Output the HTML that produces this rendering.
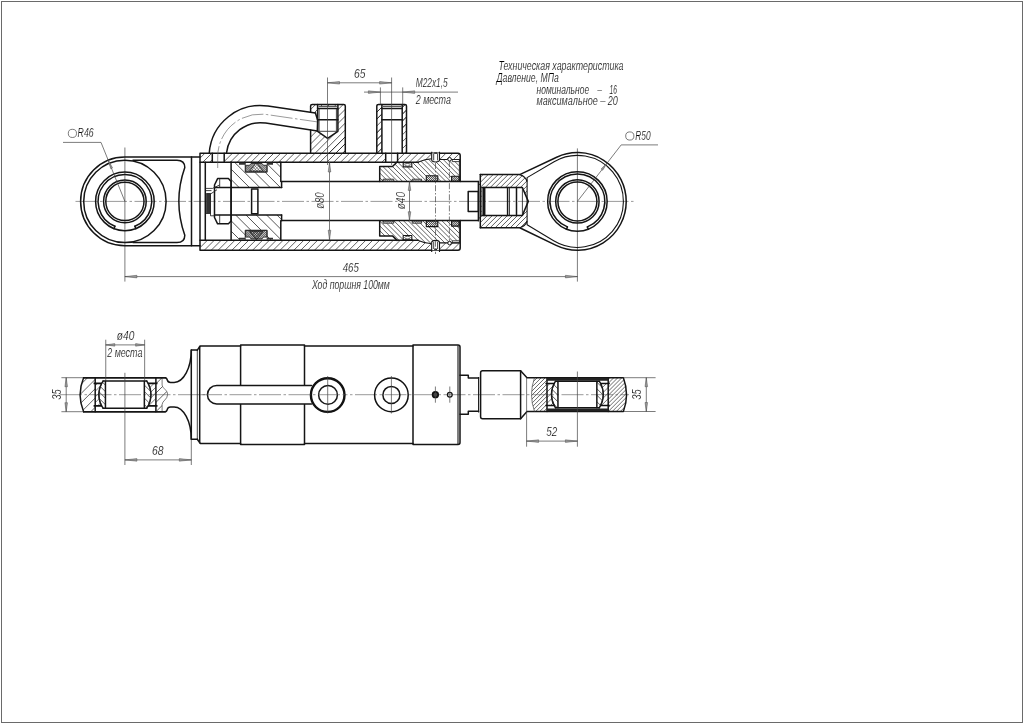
<!DOCTYPE html>
<html lang="ru">
<head>
<meta charset="utf-8">
<title>Гидроцилиндр</title>
<style>
html,body{margin:0;padding:0;background:#fff;}
body{width:1024px;height:724px;overflow:hidden;}
svg{display:block;will-change:transform;}
.k{fill:none;stroke:#151515;stroke-width:1.5;stroke-linejoin:round;stroke-linecap:round;}
.m{fill:none;stroke:#222;stroke-width:0.85;stroke-linejoin:round;}
.k2{fill:none;stroke:#151515;stroke-width:1.1;stroke-linejoin:round;}
.n{fill:none;stroke:#444;stroke-width:0.7;}
.c{fill:none;stroke:#555;stroke-width:0.6;stroke-dasharray:22 2.5 2.5 2.5;}
.c2{fill:none;stroke:#444;stroke-width:0.7;stroke-dasharray:6 1.8 1.5 1.8;}
.a{fill:#999;stroke:#444;stroke-width:0.45;}
text{font-family:"Liberation Sans",sans-serif;font-style:italic;fill:#000;stroke:#fff;stroke-width:0.2;}
</style>
</head>
<body>
<svg width="1024" height="724" viewBox="0 0 1024 724">
<rect x="0" y="0" width="1024" height="724" fill="#fff"/>
<rect x="1.5" y="1.5" width="1021" height="721" fill="none" stroke="#6a6a6a" stroke-width="1"/>
<clipPath id="cp_h1"><path clip-rule="evenodd" d="M200.5,153.3H212V162.3H200.5Z"/><path clip-rule="evenodd" d="M224.3,153.3H385.7V162.3H224.3Z"/><path clip-rule="evenodd" d="M397.6,153.3H431.7V158.7Q425,159 418.4,162.3H397.6Z"/><path clip-rule="evenodd" d="M200.5,240.2H418.4Q425,243.4 431.7,243.7V250.3H200.5Z"/><path clip-rule="evenodd" d="M439.5,153.3H458L460.2,155.5V159.5H439.5Z"/><path clip-rule="evenodd" d="M439.5,250.3H458L460.2,248.10000000000002V242.9H439.5Z"/></clipPath>
<path clip-path="url(#cp_h1)" d="M195.34,162.80L205.34,152.80M202.22,162.80L212.22,152.80M209.11,162.80L219.11,152.80M216.00,162.80L226.00,152.80M222.88,162.80L232.88,152.80M229.77,162.80L239.77,152.80M236.66,162.80L246.66,152.80M243.55,162.80L253.55,152.80M250.43,162.80L260.43,152.80M257.32,162.80L267.32,152.80M264.21,162.80L274.21,152.80M271.09,162.80L281.09,152.80M277.98,162.80L287.98,152.80M284.87,162.80L294.87,152.80M291.76,162.80L301.76,152.80M298.64,162.80L308.64,152.80M305.53,162.80L315.53,152.80M312.42,162.80L322.42,152.80M319.31,162.80L329.31,152.80M326.19,162.80L336.19,152.80M333.08,162.80L343.08,152.80M339.97,162.80L349.97,152.80M346.85,162.80L356.85,152.80M353.74,162.80L363.74,152.80M360.63,162.80L370.63,152.80M367.52,162.80L377.52,152.80M374.40,162.80L384.40,152.80M381.29,162.80L391.29,152.80M388.18,162.80L398.18,152.80M395.06,162.80L405.06,152.80M401.95,162.80L411.95,152.80M408.84,162.80L418.84,152.80M415.73,162.80L425.73,152.80M422.61,162.80L432.61,152.80M429.50,162.80L439.50,152.80M189.98,250.80L201.08,239.70M196.87,250.80L207.97,239.70M203.76,250.80L214.86,239.70M210.64,250.80L221.74,239.70M217.53,250.80L228.63,239.70M224.42,250.80L235.52,239.70M231.31,250.80L242.41,239.70M238.19,250.80L249.29,239.70M245.08,250.80L256.18,239.70M251.97,250.80L263.07,239.70M258.85,250.80L269.95,239.70M265.74,250.80L276.84,239.70M272.63,250.80L283.73,239.70M279.52,250.80L290.62,239.70M286.40,250.80L297.50,239.70M293.29,250.80L304.39,239.70M300.18,250.80L311.28,239.70M307.06,250.80L318.16,239.70M313.95,250.80L325.05,239.70M320.84,250.80L331.94,239.70M327.73,250.80L338.83,239.70M334.61,250.80L345.71,239.70M341.50,250.80L352.60,239.70M348.39,250.80L359.49,239.70M355.28,250.80L366.38,239.70M362.16,250.80L373.26,239.70M369.05,250.80L380.15,239.70M375.94,250.80L387.04,239.70M382.82,250.80L393.92,239.70M389.71,250.80L400.81,239.70M396.60,250.80L407.70,239.70M403.49,250.80L414.59,239.70M410.37,250.80L421.47,239.70M417.26,250.80L428.36,239.70M424.15,250.80L435.25,239.70M431.03,250.80L442.13,239.70M432.30,160.00L439.50,152.80M439.19,160.00L446.39,152.80M446.08,160.00L453.28,152.80M452.96,160.00L460.16,152.80M459.85,160.00L467.05,152.80M431.03,250.80L439.43,242.40M437.92,250.80L446.32,242.40M444.81,250.80L453.21,242.40M451.70,250.80L460.10,242.40M458.58,250.80L466.98,242.40" fill="none" stroke="#1c1c1c" stroke-width="0.7"/>
<clipPath id="cp_h5"><path clip-rule="evenodd" d="M310.6,104.4H345.3V153.3H310.6ZM317.6,106H337.9V131.3L327.6,138.3L317.6,131.3ZM310.6,111.7L315.3,112.4L317.6,118V130.9L310.6,130Z"/><path clip-rule="evenodd" d="M376.8,104.5H381.9V153.3H376.8Z"/><path clip-rule="evenodd" d="M402.2,104.5H406.5V153.3H402.2Z"/></clipPath>
<path clip-path="url(#cp_h5)" d="M266.32,153.80L316.22,103.90M273.21,153.80L323.11,103.90M280.09,153.80L329.99,103.90M286.98,153.80L336.88,103.90M293.87,153.80L343.77,103.90M300.76,153.80L350.66,103.90M307.64,153.80L357.54,103.90M314.53,153.80L364.43,103.90M321.42,153.80L371.32,103.90M328.31,153.80L378.21,103.90M335.19,153.80L385.09,103.90M342.08,153.80L391.98,103.90M328.31,153.80L378.11,104.00M335.19,153.80L384.99,104.00M342.08,153.80L391.88,104.00M348.97,153.80L398.77,104.00M355.85,153.80L405.65,104.00M362.74,153.80L412.54,104.00M369.63,153.80L419.43,104.00M376.52,153.80L426.32,104.00M355.85,153.80L405.65,104.00M362.74,153.80L412.54,104.00M369.63,153.80L419.43,104.00M376.52,153.80L426.32,104.00M383.40,153.80L433.20,104.00M390.29,153.80L440.09,104.00M397.18,153.80L446.98,104.00M404.06,153.80L453.86,104.00" fill="none" stroke="#1c1c1c" stroke-width="0.7"/>
<clipPath id="cp_h2"><path clip-rule="evenodd" d="M231.1,162H280.8V187.5H231.1ZM245.5,162H267V172.3H245.5Z"/><path clip-rule="evenodd" d="M231.1,215H280.8V240.2H231.1ZM245.5,229.9H267V240.2H245.5Z"/></clipPath>
<path clip-path="url(#cp_h2)" d="M213.12,161.50L239.62,188.00M223.44,161.50L249.94,188.00M233.77,161.50L260.27,188.00M244.09,161.50L270.59,188.00M254.41,161.50L280.91,188.00M264.74,161.50L291.24,188.00M275.06,161.50L301.56,188.00M214.50,214.50L240.70,240.70M224.82,214.50L251.02,240.70M235.15,214.50L261.35,240.70M245.47,214.50L271.67,240.70M255.80,214.50L282.00,240.70M266.12,214.50L292.32,240.70M276.44,214.50L302.64,240.70" fill="none" stroke="#1c1c1c" stroke-width="0.75"/>
<clipPath id="cp_x1"><path clip-rule="evenodd" d="M245.6,171.90H266.8V165.30H263.5L262,163.50H251L249.5,165.30H245.6ZM249.6,171.00L256.4,162.60L263.2,171.00Z"/><path clip-rule="evenodd" d="M245.6,230.50H266.8V237.10H263.5L262,238.90H251L249.5,237.10H245.6ZM249.6,231.40L256.4,239.80L263.2,231.40Z"/><path clip-rule="evenodd" d="M426.3,175.80H437.8V181.40H426.3Z"/><path clip-rule="evenodd" d="M451.6,176.30H459.1V181.40H451.6Z"/><path clip-rule="evenodd" d="M426.3,221.00H437.8V226.60H426.3Z"/><path clip-rule="evenodd" d="M451.6,221.00H459.1V226.10H451.6Z"/></clipPath>
<path clip-path="url(#cp_x1)" d="M235.67,172.40L245.97,162.10M237.72,172.40L248.02,162.10M239.77,172.40L250.07,162.10M241.82,172.40L252.12,162.10M243.87,172.40L254.17,162.10M245.92,172.40L256.22,162.10M247.97,172.40L258.27,162.10M250.03,172.40L260.33,162.10M252.08,172.40L262.38,162.10M254.13,172.40L264.43,162.10M256.18,172.40L266.48,162.10M258.23,172.40L268.53,162.10M260.28,172.40L270.58,162.10M262.33,172.40L272.63,162.10M264.38,172.40L274.68,162.10M266.43,172.40L276.73,162.10M235.92,162.10L246.22,172.40M237.97,162.10L248.27,172.40M240.02,162.10L250.32,172.40M242.07,162.10L252.37,172.40M244.12,162.10L254.42,172.40M246.17,162.10L256.47,172.40M248.23,162.10L258.53,172.40M250.28,162.10L260.58,172.40M252.33,162.10L262.63,172.40M254.38,162.10L264.68,172.40M256.43,162.10L266.73,172.40M258.48,162.10L268.78,172.40M260.53,162.10L270.83,172.40M262.58,162.10L272.88,172.40M264.63,162.10L274.93,172.40M266.68,162.10L276.98,172.40M235.44,240.30L245.74,230.00M237.49,240.30L247.79,230.00M239.54,240.30L249.84,230.00M241.59,240.30L251.89,230.00M243.64,240.30L253.94,230.00M245.69,240.30L255.99,230.00M247.75,240.30L258.05,230.00M249.80,240.30L260.10,230.00M251.85,240.30L262.15,230.00M253.90,240.30L264.20,230.00M255.95,240.30L266.25,230.00M258.00,240.30L268.30,230.00M260.05,240.30L270.35,230.00M262.10,240.30L272.40,230.00M264.15,240.30L274.45,230.00M266.20,240.30L276.50,230.00M236.15,230.00L246.45,240.30M238.20,230.00L248.50,240.30M240.25,230.00L250.55,240.30M242.30,230.00L252.60,240.30M244.35,230.00L254.65,240.30M246.40,230.00L256.70,240.30M248.46,230.00L258.76,240.30M250.51,230.00L260.81,240.30M252.56,230.00L262.86,240.30M254.61,230.00L264.91,240.30M256.66,230.00L266.96,240.30M258.71,230.00L269.01,240.30M260.76,230.00L271.06,240.30M262.81,230.00L273.11,240.30M264.86,230.00L275.16,240.30M266.91,230.00L277.21,240.30M420.98,181.90L427.58,175.30M423.03,181.90L429.63,175.30M425.08,181.90L431.68,175.30M427.13,181.90L433.73,175.30M429.18,181.90L435.78,175.30M431.23,181.90L437.83,175.30M433.28,181.90L439.88,175.30M435.33,181.90L441.93,175.30M437.38,181.90L443.98,175.30M419.32,175.30L425.92,181.90M421.37,175.30L427.97,181.90M423.42,175.30L430.02,181.90M425.47,175.30L432.07,181.90M427.52,175.30L434.12,181.90M429.58,175.30L436.18,181.90M431.63,175.30L438.23,181.90M433.68,175.30L440.28,181.90M435.73,175.30L442.33,181.90M437.78,175.30L444.38,181.90M445.59,181.90L451.69,175.80M447.64,181.90L453.74,175.80M449.69,181.90L455.79,175.80M451.74,181.90L457.84,175.80M453.79,181.90L459.89,175.80M455.84,181.90L461.94,175.80M457.89,181.90L463.99,175.80M446.48,175.80L452.58,181.90M448.53,175.80L454.63,181.90M450.58,175.80L456.68,181.90M452.63,175.80L458.73,181.90M454.68,175.80L460.78,181.90M456.73,175.80L462.83,181.90M458.78,175.80L464.88,181.90M420.89,227.10L427.49,220.50M422.94,227.10L429.54,220.50M424.99,227.10L431.59,220.50M427.04,227.10L433.64,220.50M429.10,227.10L435.70,220.50M431.15,227.10L437.75,220.50M433.20,227.10L439.80,220.50M435.25,227.10L441.85,220.50M437.30,227.10L443.90,220.50M419.41,220.50L426.01,227.10M421.46,220.50L428.06,227.10M423.51,220.50L430.11,227.10M425.56,220.50L432.16,227.10M427.61,220.50L434.21,227.10M429.66,220.50L436.26,227.10M431.71,220.50L438.31,227.10M433.76,220.50L440.36,227.10M435.81,220.50L442.41,227.10M437.86,220.50L444.46,227.10M446.00,226.60L452.10,220.50M448.05,226.60L454.15,220.50M450.10,226.60L456.20,220.50M452.15,226.60L458.25,220.50M454.20,226.60L460.30,220.50M456.25,226.60L462.35,220.50M458.30,226.60L464.40,220.50M446.07,220.50L452.17,226.60M448.12,220.50L454.22,226.60M450.17,220.50L456.27,226.60M452.22,220.50L458.32,226.60M454.27,220.50L460.37,226.60M456.32,220.50L462.42,226.60M458.37,220.50L464.47,226.60" fill="none" stroke="#111" stroke-width="0.55"/>
<clipPath id="cp_x3"><path clip-rule="evenodd" d="M249.6,171.00L256.4,162.60L263.2,171.00Z"/><path clip-rule="evenodd" d="M249.6,231.40L256.4,239.80L263.2,231.40Z"/></clipPath>
<path clip-path="url(#cp_x3)" d="M241.31,171.50L250.71,162.10M244.28,171.50L253.68,162.10M247.25,171.50L256.65,162.10M250.22,171.50L259.62,162.10M253.19,171.50L262.59,162.10M256.16,171.50L265.56,162.10M259.13,171.50L268.53,162.10M262.10,171.50L271.50,162.10M242.29,162.10L251.69,171.50M245.26,162.10L254.66,171.50M248.23,162.10L257.63,171.50M251.20,162.10L260.60,171.50M254.17,162.10L263.57,171.50M257.14,162.10L266.54,171.50M260.10,162.10L269.50,171.50M263.07,162.10L272.47,171.50M240.82,240.30L250.22,230.90M243.79,240.30L253.19,230.90M246.76,240.30L256.16,230.90M249.72,240.30L259.12,230.90M252.69,240.30L262.09,230.90M255.66,240.30L265.06,230.90M258.63,240.30L268.03,230.90M261.60,240.30L271.00,230.90M239.81,230.90L249.21,240.30M242.78,230.90L252.18,240.30M245.75,230.90L255.15,240.30M248.72,230.90L258.12,240.30M251.69,230.90L261.09,240.30M254.66,230.90L264.06,240.30M257.63,230.90L267.03,240.30M260.60,230.90L270.00,240.30M263.57,230.90L272.97,240.30" fill="none" stroke="#222" stroke-width="0.5"/>
<clipPath id="cp_h2g"><path clip-rule="evenodd" d="M379.7,166.5H392.5L397.1,162H418.4Q425,159 431.7,158.7L439.5,159.5H459.5V181.4H379.7ZM403.2,162.6H411.8V166.9H403.2ZM383,179.2H393.8V181.4H383ZM412.2,179.2H421.6V181.4H412.2ZM426.3,175.8H437.8V181.4H426.3ZM451.6,176.3H459.1V181.4H451.6ZM431.7,153.3H439.5V160L435.6,162.2L431.7,160ZM452.3,159.5H459.5V161.6H452.3Z"/><path clip-rule="evenodd" d="M379.7,235.9H392.5L397.1,240.4H418.4Q425,243.4 431.7,243.7L439.5,242.9H459.5V221.0H379.7ZM403.2,239.8H411.8V235.5H403.2ZM383,223.2H393.8V221.0H383ZM412.2,223.2H421.6V221.0H412.2ZM426.3,226.6H437.8V221.0H426.3ZM451.6,226.1H459.1V221.0H451.6ZM431.7,250.3H439.5V242.4L435.6,240.2L431.7,242.4ZM452.3,242.9H459.5V240.8H452.3Z"/></clipPath>
<path clip-path="url(#cp_h2g)" d="M354.75,152.80L383.85,181.90M359.56,152.80L388.66,181.90M364.37,152.80L393.47,181.90M369.17,152.80L398.27,181.90M373.98,152.80L403.08,181.90M378.79,152.80L407.89,181.90M383.60,152.80L412.70,181.90M388.41,152.80L417.51,181.90M393.22,152.80L422.32,181.90M398.02,152.80L427.12,181.90M402.83,152.80L431.93,181.90M407.64,152.80L436.74,181.90M412.45,152.80L441.55,181.90M417.26,152.80L446.36,181.90M422.07,152.80L451.17,181.90M426.87,152.80L455.97,181.90M431.68,152.80L460.78,181.90M436.49,152.80L465.59,181.90M441.30,152.80L470.40,181.90M446.11,152.80L475.21,181.90M450.92,152.80L480.02,181.90M455.72,152.80L484.82,181.90M350.32,220.50L380.62,250.80M355.13,220.50L385.43,250.80M359.94,220.50L390.24,250.80M364.75,220.50L395.05,250.80M369.56,220.50L399.86,250.80M374.37,220.50L404.67,250.80M379.17,220.50L409.47,250.80M383.98,220.50L414.28,250.80M388.79,220.50L419.09,250.80M393.60,220.50L423.90,250.80M398.41,220.50L428.71,250.80M403.22,220.50L433.52,250.80M408.02,220.50L438.32,250.80M412.83,220.50L443.13,250.80M417.64,220.50L447.94,250.80M422.45,220.50L452.75,250.80M427.26,220.50L457.56,250.80M432.07,220.50L462.37,250.80M436.87,220.50L467.17,250.80M441.68,220.50L471.98,250.80M446.49,220.50L476.79,250.80M451.30,220.50L481.60,250.80M456.11,220.50L486.41,250.80" fill="none" stroke="#1c1c1c" stroke-width="0.7"/>
<clipPath id="cp_x2"><path clip-rule="evenodd" d="M383,179.20H393.8V181.40H383Z"/><path clip-rule="evenodd" d="M412.2,179.20H421.6V181.40H412.2Z"/><path clip-rule="evenodd" d="M383,221.00H393.8V223.20H383Z"/><path clip-rule="evenodd" d="M412.2,221.00H421.6V223.20H412.2Z"/></clipPath>
<path clip-path="url(#cp_x2)" d="M380.67,181.90L383.87,178.70M382.51,181.90L385.71,178.70M384.35,181.90L387.55,178.70M386.19,181.90L389.39,178.70M388.03,181.90L391.23,178.70M389.87,181.90L393.07,178.70M391.71,181.90L394.91,178.70M393.54,181.90L396.74,178.70M410.09,181.90L413.29,178.70M411.93,181.90L415.13,178.70M413.77,181.90L416.97,178.70M415.61,181.90L418.81,178.70M417.44,181.90L420.64,178.70M419.28,181.90L422.48,178.70M421.12,181.90L424.32,178.70M379.32,223.70L382.52,220.50M381.16,223.70L384.36,220.50M383.00,223.70L386.20,220.50M384.84,223.70L388.04,220.50M386.67,223.70L389.87,220.50M388.51,223.70L391.71,220.50M390.35,223.70L393.55,220.50M392.19,223.70L395.39,220.50M394.03,223.70L397.23,220.50M408.74,223.70L411.94,220.50M410.57,223.70L413.77,220.50M412.41,223.70L415.61,220.50M414.25,223.70L417.45,220.50M416.09,223.70L419.29,220.50M417.93,223.70L421.13,220.50M419.77,223.70L422.97,220.50M421.61,223.70L424.81,220.50" fill="none" stroke="#222" stroke-width="0.55"/>
<clipPath id="cp_h6"><path clip-rule="evenodd" d="M480.3,174.6H519.7Q525.5,176.2 527.1,181.5V221Q525.5,226.2 519.7,227.7H480.3ZM481.8,187.6H522.4L528.3,201.4L522.4,215.4H481.8Z"/></clipPath>
<path clip-path="url(#cp_h6)" d="M429.48,228.20L483.58,174.10M434.50,228.20L488.60,174.10M439.52,228.20L493.62,174.10M444.54,228.20L498.64,174.10M449.56,228.20L503.66,174.10M454.58,228.20L508.68,174.10M459.60,228.20L513.70,174.10M464.62,228.20L518.72,174.10M469.64,228.20L523.74,174.10M474.66,228.20L528.76,174.10M479.68,228.20L533.78,174.10M484.71,228.20L538.81,174.10M489.73,228.20L543.83,174.10M494.75,228.20L548.85,174.10M499.77,228.20L553.87,174.10M504.79,228.20L558.89,174.10M509.81,228.20L563.91,174.10M514.83,228.20L568.93,174.10M519.85,228.20L573.95,174.10M524.87,228.20L578.97,174.10" fill="none" stroke="#1c1c1c" stroke-width="0.7"/>
<clipPath id="cp_h3"><path clip-rule="evenodd" d="M83.6,377.7A44.7,44.7 0 0 0 83.6,411.7H95.2V377.7Z"/><path clip-rule="evenodd" d="M155.9,377.7H162.1V385C162.4,388.5 167.8,390 167.6,394.7C167.4,399.5 162.1,401 162.1,404.5V411.7H155.9Z"/></clipPath>
<path clip-path="url(#cp_h3)" d="M25.53,421.14L78.41,368.26M34.83,421.14L87.71,368.26M44.14,421.14L97.02,368.26M53.44,421.14L106.32,368.26M62.75,421.14L115.63,368.26M72.05,421.14L124.93,368.26M81.36,421.14L134.24,368.26M90.66,421.14L143.54,368.26M127.52,412.20L162.52,377.20M136.83,412.20L171.83,377.20M146.13,412.20L181.13,377.20M155.44,412.20L190.44,377.20M164.74,412.20L199.74,377.20" fill="none" stroke="#1c1c1c" stroke-width="0.7"/>
<clipPath id="cp_h4"><path clip-rule="evenodd" d="M103.05,381.1A24.0,24.0 0 0 0 103.05,408.2H105.45V381.1Z"/><path clip-rule="evenodd" d="M146.75,381.1A24.0,24.0 0 0 1 146.75,408.2H144.35V381.1Z"/><path clip-rule="evenodd" d="M555.55,381.2A24.0,24.0 0 0 0 555.55,407.8H557.9499999999999V381.2Z"/><path clip-rule="evenodd" d="M599.25,381.2A24.0,24.0 0 0 1 599.25,407.8H596.85V381.2Z"/></clipPath>
<path clip-path="url(#cp_h4)" d="M63.54,375.80L101.24,413.50M70.05,375.80L107.75,413.50M76.55,375.80L114.25,413.50M83.06,375.80L120.76,413.50M89.56,375.80L127.26,413.50M96.07,375.80L133.77,413.50M102.57,375.80L140.27,413.50M109.08,375.80L146.78,413.50M115.58,375.80L153.28,413.50M122.09,375.80L159.79,413.50M128.60,375.80L166.30,413.50M135.10,375.80L172.80,413.50M141.61,375.80L179.31,413.50M148.11,375.80L185.81,413.50M519.02,375.90L556.22,413.10M525.52,375.90L562.72,413.10M532.03,375.90L569.23,413.10M538.53,375.90L575.73,413.10M545.04,375.90L582.24,413.10M551.55,375.90L588.75,413.10M558.05,375.90L595.25,413.10M558.05,375.90L595.25,413.10M564.56,375.90L601.76,413.10M571.06,375.90L608.26,413.10M577.57,375.90L614.77,413.10M584.07,375.90L621.27,413.10M590.58,375.90L627.78,413.10M597.08,375.90L634.28,413.10M603.59,375.90L640.79,413.10" fill="none" stroke="#1c1c1c" stroke-width="0.7"/>
<clipPath id="cp_h8"><path clip-rule="evenodd" d="M95.2,383.40000000000003H101.85A24.0,24.0 0 0 0 101.85,405.9H95.2Z"/><path clip-rule="evenodd" d="M155.9,383.40000000000003H147.95A24.0,24.0 0 0 1 147.95,405.9H155.9Z"/><path clip-rule="evenodd" d="M547,383.5H554.35A24.0,24.0 0 0 0 554.35,405.5H547Z"/><path clip-rule="evenodd" d="M608.2,383.5H600.45A24.0,24.0 0 0 1 600.45,405.5H608.2Z"/></clipPath>
<path clip-path="url(#cp_h8)" d="M63.98,411.20L97.08,378.10M69.63,411.20L102.73,378.10M75.29,411.20L108.39,378.10M80.95,411.20L114.05,378.10M86.60,411.20L119.70,378.10M92.26,411.20L125.36,378.10M97.92,411.20L131.02,378.10M103.57,411.20L136.67,378.10M114.89,411.20L147.99,378.10M120.54,411.20L153.64,378.10M126.20,411.20L159.30,378.10M131.86,411.20L164.96,378.10M137.51,411.20L170.61,378.10M143.17,411.20L176.27,378.10M148.83,411.20L181.93,378.10M154.49,411.20L187.59,378.10M516.92,410.80L549.52,378.20M522.58,410.80L555.18,378.20M528.24,410.80L560.84,378.20M533.89,410.80L566.49,378.20M539.55,410.80L572.15,378.20M545.21,410.80L577.81,378.20M550.87,410.80L583.47,378.20M556.52,410.80L589.12,378.20M567.84,410.80L600.44,378.20M573.49,410.80L606.09,378.20M579.15,410.80L611.75,378.20M584.81,410.80L617.41,378.20M590.46,410.80L623.06,378.20M596.12,410.80L628.72,378.20M601.78,410.80L634.38,378.20M607.43,410.80L640.03,378.20" fill="none" stroke="#1c1c1c" stroke-width="0.6"/>
<clipPath id="cp_h7"><path clip-rule="evenodd" d="M534.5,377.7H547V411.5H534.5Q528.5,394.6 534.5,377.7Z"/><path clip-rule="evenodd" d="M608.2,377.7H623.4A48.7,48.7 0 0 1 623.4,411.5H608.2Z"/></clipPath>
<path clip-path="url(#cp_h7)" d="M494.86,412.00L529.66,377.20M498.89,412.00L533.69,377.20M502.93,412.00L537.73,377.20M506.96,412.00L541.76,377.20M510.99,412.00L545.79,377.20M515.02,412.00L549.82,377.20M519.05,412.00L553.85,377.20M523.08,412.00L557.88,377.20M527.11,412.00L561.91,377.20M531.14,412.00L565.94,377.20M535.17,412.00L569.97,377.20M539.20,412.00L574.00,377.20M543.23,412.00L578.03,377.20M547.26,412.00L582.06,377.20M553.64,421.74L607.92,367.46M557.67,421.74L611.95,367.46M561.70,421.74L615.98,367.46M565.73,421.74L620.01,367.46M569.77,421.74L624.05,367.46M573.80,421.74L628.08,367.46M577.83,421.74L632.11,367.46M581.86,421.74L636.14,367.46M585.89,421.74L640.17,367.46M589.92,421.74L644.20,367.46M593.95,421.74L648.23,367.46M597.98,421.74L652.26,367.46M602.01,421.74L656.29,367.46M606.04,421.74L660.32,367.46M610.07,421.74L664.35,367.46M614.10,421.74L668.38,367.46M618.13,421.74L672.41,367.46M622.16,421.74L676.44,367.46M626.19,421.74L680.47,367.46M630.22,421.74L684.50,367.46" fill="none" stroke="#1c1c1c" stroke-width="0.65"/>
<path class="c" d="M75.50,201.40L634.00,201.40" />
<path class="n" d="M124.90,147.50L124.90,281.60" />
<path class="n" d="M577.40,148.40L577.40,281.60" />
<path class="k" d="M200,157.1H124.9A44.3,44.3 0 0 0 124.9,245.7H200" />
<path class="k" d="M191.50,157.10L191.50,245.70" />
<circle class="k" cx="124.90" cy="201.40" r="41.20" />
<path class="k" d="M133,160.2H177Q184.8,160.2 184.8,167.5A102,102 0 0 0 184.8,235.3Q184.8,242.6 177,242.6H133" />
<circle class="k" cx="124.90" cy="201.40" r="29.30" />
<path class="k" d="M134.90,226.26A26.8,26.8 0 1 0 114.90,226.26" />
<path class="k" d="M134.90,226.26L135.80,228.76" />
<path class="k" d="M114.90,226.26L114.00,228.76" />
<circle class="k" cx="124.90" cy="201.40" r="21.30" />
<circle class="k" cx="124.90" cy="201.40" r="19.10" />
<path class="n" d="M63,142.4H101L124.9,201.4" />
<path class="a" d="M108.20,160.00L112.56,167.94L110.71,168.70Z"/>
<path class="k" d="M200,250.3V153.3H458Q460.2,153.3 460.2,155.5V181.6M460.2,220.6V248.1Q460.2,250.3 458,250.3H200" />
<path class="k" d="M200.00,162.30L418.40,162.30" />
<path class="k" d="M200.00,240.20L418.40,240.20" />
<path class="k" d="M205.30,162.30L205.30,240.20" />
<path class="k" d="M212.30,153.30L212.30,162.30" />
<path class="k" d="M224.20,153.30L224.20,162.30" />
<path class="k" d="M385.70,153.30L385.70,162.30" />
<path class="k" d="M397.60,153.30L397.60,162.30" />
<path class="k" d="M209.25,153.00A51.4,51.4 0 0 1 267.96,106.04L315.40,113.00" />
<path class="k" d="M226.52,153.00A34.2,34.2 0 0 1 265.67,123.09L317.40,131.00" />
<path class="c" d="M217.70,168.0V156.9A42.8,42.8 0 0 1 266.65,114.54L318.00,122.00" />
<path class="k" d="M315.4,113L317.8,120.5L317.4,131" />
<path class="k" d="M310.6,111.9V106Q310.6,104.5 312.2,104.5H343.7Q345.3,104.5 345.3,106V153.3M310.6,130V153.3" />
<path class="k" d="M317.6,104.5V131.3L327.6,138.3L337.9,131.3V104.5" />
<path class="k" d="M317.60,108.60L337.90,108.60" />
<path class="m" d="M318.60,106.40L336.90,106.40" />
<path class="k" d="M317.60,119.80L337.90,119.80" />
<path class="m" d="M317.60,131.30L337.90,131.30" />
<path class="m" d="M319.10,108.60L319.10,131.30" />
<path class="m" d="M336.40,108.60L336.40,131.30" />
<path class="n" d="M327.50,77.50L327.50,165.00" />
<path class="k" d="M376.8,153.3V106Q376.8,104.5 378.4,104.5H404.9Q406.5,104.5 406.5,106V153.3" />
<path class="k" d="M381.90,104.50L381.90,153.30" />
<path class="k" d="M402.20,104.50L402.20,153.30" />
<path class="k" d="M381.90,108.60L402.20,108.60" />
<path class="m" d="M382.90,106.40L401.20,106.40" />
<path class="k" d="M381.90,119.80L402.20,119.80" />
<path class="n" d="M391.60,77.50L391.60,165.00" />
<path class="n" d="M380.40,87.40L380.40,104.50" />
<path class="n" d="M402.70,87.40L402.70,104.50" />
<path class="n" d="M327.50,82.80L391.60,82.80" />
<path class="a" d="M327.50,82.80L339.50,81.50L339.50,84.10Z"/>
<path class="a" d="M391.60,82.80L379.60,84.10L379.60,81.50Z"/>
<text x="359.7" y="77.7" font-size="12.5" text-anchor="middle" textLength="11.5" lengthAdjust="spacingAndGlyphs" >65</text>
<path class="n" d="M364.00,92.10L458.00,92.10" />
<path class="a" d="M380.40,92.10L368.40,93.40L368.40,90.80Z"/>
<path class="a" d="M402.70,92.10L414.70,90.80L414.70,93.40Z"/>
<text x="415.7" y="86.8" font-size="12.5" text-anchor="start" textLength="32.0" lengthAdjust="spacingAndGlyphs" >M22x1,5</text>
<text x="415.7" y="104.1" font-size="12.5" text-anchor="start" textLength="35.2" lengthAdjust="spacingAndGlyphs" >2 места</text>
<path class="k" d="M231.10,162.00L231.10,240.20" />
<path class="k" d="M280.8,162V181.4M280.8,220.7V240.2" />
<path class="k" d="M231.10,187.50L281.60,187.50" />
<path class="k" d="M231.10,215.00L281.60,215.00" />
<rect class="k" x="251.60" y="188.90" width="6.30" height="24.80" />
<path class="m" d="M245.2,162.10V172.20H267.2V162.10" />
<path class="m" d="M245.6,171.90H266.8V165.30H263.5L262,163.50H251L249.5,165.30H245.6Z" />
<path class="m" d="M249.6,171.00L256.4,162.60L263.2,171.00Z" />
<path d="M239,162.80H245.2V164.70H239ZM267.2,162.80H273V164.70H267.2Z" fill="#333"/>
<path class="m" d="M245.2,240.30V230.20H267.2V240.30" />
<path class="m" d="M245.6,230.50H266.8V237.10H263.5L262,238.90H251L249.5,237.10H245.6Z" />
<path class="m" d="M249.6,231.40L256.4,239.80L263.2,231.40Z" />
<path d="M239,239.60H245.2V237.70H239ZM267.2,239.60H273V237.70H267.2Z" fill="#333"/>
<path class="k" d="M214.5,185V217.5L217.6,223.8H228.4L231.1,221V181.4L228.4,178.6H217.6Z" />
<path class="k" d="M214.50,187.60L231.10,187.60" />
<path class="k" d="M214.50,214.90L231.10,214.90" />
<path class="m" d="M219.70,178.60L219.70,187.60" />
<path class="m" d="M219.70,214.90L219.70,223.80" />
<rect x="206.4" y="193.7" width="4.1" height="20" fill="#555" stroke="#222" stroke-width="0.6"/>
<path d="M207.4,193.7V213.7M208.45,193.7V213.7M209.5,193.7V213.7" stroke="#111" stroke-width="0.5" fill="none"/>
<path class="m" d="M210.5,193.7V215.8H214.5" />
<path class="m" d="M205.7,188.4H212.7L219.7,184.9M206.5,193.7H211L217,189.7M205.7,190.6H211.5" />
<path class="k" d="M281.60,181.60L478.40,181.60" />
<path class="k" d="M281.60,220.60L478.40,220.60" />
<path class="k" d="M281.60,181.40L281.60,187.50" />
<path class="k" d="M281.60,215.00L281.60,220.70" />
<path class="k" d="M478.4,181.4V220.7" />
<rect class="k" x="468.20" y="191.40" width="10.20" height="20.20" />
<path class="n" d="M329.50,162.00L329.50,240.20" />
<path class="a" d="M329.50,162.00L330.80,172.00L328.20,172.00Z"/>
<path class="a" d="M329.50,240.20L328.20,230.20L330.80,230.20Z"/>
<text x="324.0" y="200.6" font-size="12.5" text-anchor="middle" textLength="16.5" lengthAdjust="spacingAndGlyphs" transform="rotate(-90 324.0 200.6)" stroke-width="0.12" >ø80</text>
<path class="n" d="M409.50,181.40L409.50,220.70" />
<path class="a" d="M409.50,181.40L410.80,190.40L408.20,190.40Z"/>
<path class="a" d="M409.50,220.70L408.20,211.70L410.80,211.70Z"/>
<text x="405.5" y="200.6" font-size="12.5" text-anchor="middle" textLength="17.5" lengthAdjust="spacingAndGlyphs" transform="rotate(-90 405.5 200.6)" stroke-width="0.12" >ø40</text>
<path class="k" d="M379.7,181.4V166.5H392.5L397.1,162" />
<path class="k2" d="M418.4,162Q425,159 431.7,158.7M439.5,159.5H459.8" />
<path class="m" d="M459.40,160.00L459.40,181.40" />
<rect class="k2" x="403.20" y="162.60" width="8.60" height="4.30" />
<ellipse cx="407.5" cy="164.80" rx="2.8" ry="1.3" fill="#fff" stroke="#222" stroke-width="0.7"/>
<rect class="m" x="383.00" y="179.20" width="10.80" height="2.20" />
<rect class="m" x="412.20" y="179.20" width="9.40" height="2.20" />
<rect class="k2" x="426.30" y="175.80" width="11.50" height="5.60" />
<rect class="k2" x="451.60" y="176.30" width="7.50" height="5.10" />
<path d="M431.7,153.3V159.8Q431.7,162 435.6,162Q439.5,162 439.5,159.8V153.3" fill="#fff" stroke="none"/>
<path class="k2" d="M431.7,151.70000000000002V159.8Q431.7,162 435.6,162Q439.5,162 439.5,159.8V151.70000000000002" />
<path class="m" d="M433.70,153.40L433.70,160.40" />
<path class="m" d="M437.60,153.40L437.60,160.40" />
<path d="M434.2,152.4H437.1V153.8H434.2Z" fill="#222"/>
<rect class="m" x="452.30" y="159.50" width="7.20" height="2.10" />
<circle cx="449.6" cy="159.30" r="1.8" fill="#fff" stroke="#151515" stroke-width="1"/>
<path class="k" d="M379.7,221.0V235.9H392.5L397.1,240.4" />
<path class="k2" d="M418.4,240.4Q425,243.4 431.7,243.7M439.5,242.9H459.8" />
<path class="m" d="M459.40,242.40L459.40,221.00" />
<rect class="k2" x="403.20" y="235.50" width="8.60" height="4.30" />
<ellipse cx="407.5" cy="237.60" rx="2.8" ry="1.3" fill="#fff" stroke="#222" stroke-width="0.7"/>
<rect class="m" x="383.00" y="221.00" width="10.80" height="2.20" />
<rect class="m" x="412.20" y="221.00" width="9.40" height="2.20" />
<rect class="k2" x="426.30" y="221.00" width="11.50" height="5.60" />
<rect class="k2" x="451.60" y="221.00" width="7.50" height="5.10" />
<path d="M431.7,250.3V242.6Q431.7,240.4 435.6,240.4Q439.5,240.4 439.5,242.6V250.3" fill="#fff" stroke="none"/>
<path class="k2" d="M431.7,251.9V242.6Q431.7,240.4 435.6,240.4Q439.5,240.4 439.5,242.6V251.9" />
<path class="m" d="M433.70,249.00L433.70,242.00" />
<path class="m" d="M437.60,249.00L437.60,242.00" />
<path d="M434.2,250.0H437.1V248.6H434.2Z" fill="#222"/>
<rect class="m" x="452.30" y="240.80" width="7.20" height="2.10" />
<circle cx="449.6" cy="243.10" r="1.8" fill="#fff" stroke="#151515" stroke-width="1"/>
<path class="c2" d="M435.50,163.00L435.50,254.00" />
<path class="c2" d="M449.40,161.00L449.40,241.50" />
<path class="m" d="M478.4,183.5L480.3,185M478.4,218.8L480.3,217.3" />
<path class="k" d="M480.3,174.6V227.7" />
<path class="k" d="M481.8,187.6H522.4L528.3,201.4L522.4,215.4H481.8" />
<path class="m" d="M481.80,187.60L481.80,215.40" />
<path class="k" d="M483.30,187.60L483.30,215.40" />
<path class="k" d="M484.70,187.60L484.70,215.40" />
<path class="k" d="M507.60,187.60L507.60,215.40" />
<path class="m" d="M509.50,187.60L509.50,215.40" />
<path class="k" d="M516.50,187.60L516.50,215.40" />
<path class="m" d="M522.40,187.60L522.40,215.40" />
<path class="k" d="M480.3,174.6H519.7L556.64,157.24A48.8,48.8 0 1 1 556.15,245.33L519.7,227.7H480.3" />
<path class="k2" d="M527.1,224.8V177.6L554.10,161.74A46.0,46.0 0 1 1 553.66,240.80Z" />
<path class="k2" d="M519.7,174.6Q525.5,176.2 527.1,181.5M519.7,227.7Q525.5,226.2 527.1,221" />
<circle class="k" cx="577.40" cy="201.40" r="29.75" />
<path class="k" d="M587.40,226.91A27.4,27.4 0 1 0 567.40,226.91" />
<path class="k" d="M587.40,226.91L588.30,229.31" />
<path class="k" d="M567.40,226.91L566.50,229.31" />
<circle class="k" cx="577.40" cy="201.40" r="21.70" />
<circle class="k" cx="577.40" cy="201.40" r="19.50" />
<path class="n" d="M658,144.9H621.2L577.4,201.4" />
<path class="a" d="M607.40,162.50L602.71,170.25L601.13,169.03Z"/>
<circle class="n" cx="72.40" cy="133.40" r="4.10" />
<text x="77.6" y="136.9" font-size="12.5" text-anchor="start" textLength="16.0" lengthAdjust="spacingAndGlyphs" >R46</text>
<circle class="n" cx="629.80" cy="136.00" r="4.10" />
<text x="635.3" y="139.7" font-size="12.5" text-anchor="start" textLength="15.3" lengthAdjust="spacingAndGlyphs" >R50</text>
<path class="n" d="M124.90,276.60L577.40,276.60" />
<path class="a" d="M124.90,276.60L136.90,275.30L136.90,277.90Z"/>
<path class="a" d="M577.40,276.60L565.40,277.90L565.40,275.30Z"/>
<text x="350.8" y="271.6" font-size="12.5" text-anchor="middle" textLength="16.1" lengthAdjust="spacingAndGlyphs" >465</text>
<text x="312.0" y="289.1" font-size="12.5" text-anchor="start" textLength="77.8" lengthAdjust="spacingAndGlyphs" >Ход поршня 100мм</text>
<text x="498.5" y="69.8" font-size="12.5" text-anchor="start" textLength="125.0" lengthAdjust="spacingAndGlyphs" >Техническая характеристика</text>
<text x="496.5" y="81.7" font-size="12.5" text-anchor="start" textLength="62.2" lengthAdjust="spacingAndGlyphs" >Давление, МПа</text>
<text x="536.6" y="93.7" font-size="12.5" text-anchor="start" textLength="52.5" lengthAdjust="spacingAndGlyphs" >номинальное</text>
<text x="597.5" y="93.7" font-size="12.5" text-anchor="start" textLength="4.5" lengthAdjust="spacingAndGlyphs" >–</text>
<text x="609.6" y="93.7" font-size="12.5" text-anchor="start" textLength="7.4" lengthAdjust="spacingAndGlyphs" >16</text>
<text x="536.6" y="105.4" font-size="12.5" text-anchor="start" textLength="81.3" lengthAdjust="spacingAndGlyphs" >максимальное – 20</text>
<path class="c" d="M60.00,394.70L629.00,394.70" />
<path class="k" d="M83.6,377.7A44.7,44.7 0 0 0 83.6,411.7" />
<path class="k" d="M83.6,377.7H165Q166.8,377.7 167.3,380Q167.8,382.4 170.5,382.4H174.1A17.2,32.3 0 0 0 191.3,350.1" />
<path class="k" d="M83.6,411.7H165Q166.8,411.7 167.3,409.4Q167.8,407 170.5,407H174.1A17.2,32.3 0 0 1 191.3,439.3" />
<path class="n" d="M162.1,377.9V385C162.4,388.5 167.8,390 167.6,394.7C167.4,399.5 162.1,401 162.1,404.5V411.5" />
<path class="k" d="M95.20,377.70L95.20,411.70" />
<path class="k" d="M155.90,377.70L155.90,411.70" />
<path class="k" d="M105.45,381.10L105.45,408.20" />
<path class="k" d="M144.35,381.10L144.35,408.20" />
<path class="k" d="M103.05,381.10L146.75,381.10" />
<path class="k" d="M103.05,408.20L146.75,408.20" />
<path class="k" d="M103.05,381.1A24.0,24.0 0 0 0 103.05,408.2" />
<path class="k" d="M146.75,381.1A24.0,24.0 0 0 1 146.75,408.2" />
<path class="m" d="M101.85,383.40000000000003A24.0,24.0 0 0 0 101.85,405.9" />
<path class="m" d="M147.95,383.40000000000003A24.0,24.0 0 0 1 147.95,405.9" />
<path d="M93.60000000000001,383.40000000000003H101.85M157.5,383.40000000000003H147.95" stroke="#111" stroke-width="1.7" fill="none"/>
<path d="M93.60000000000001,405.9H101.85M157.5,405.9H147.95" stroke="#111" stroke-width="1.7" fill="none"/>
<path class="k" d="M83.60,377.70L165.50,377.70" />
<path class="k" d="M83.60,411.70L165.50,411.70" />
<path class="n" d="M124.90,372.80L124.90,465.00" />
<path class="n" d="M61.40,377.70L83.00,377.70" />
<path class="n" d="M61.40,411.70L83.00,411.70" />
<path class="n" d="M66.20,377.70L66.20,411.70" />
<path class="a" d="M66.20,377.70L67.50,386.70L64.90,386.70Z"/>
<path class="a" d="M66.20,411.70L64.90,402.70L67.50,402.70Z"/>
<text x="60.8" y="394.6" font-size="12.5" text-anchor="middle" textLength="10.5" lengthAdjust="spacingAndGlyphs" transform="rotate(-90 60.8 394.6)" stroke-width="0.12" >35</text>
<path class="n" d="M105.75,339.70L105.75,381.00" />
<path class="n" d="M144.65,339.70L144.65,381.00" />
<path class="n" d="M105.75,344.90L144.65,344.90" />
<path class="a" d="M105.75,344.90L114.75,343.60L114.75,346.20Z"/>
<path class="a" d="M144.65,344.90L135.65,346.20L135.65,343.60Z"/>
<text x="125.6" y="339.6" font-size="12.5" text-anchor="middle" textLength="17.5" lengthAdjust="spacingAndGlyphs" >ø40</text>
<text x="124.8" y="357.4" font-size="12.5" text-anchor="middle" textLength="35.2" lengthAdjust="spacingAndGlyphs" >2 места</text>
<path class="n" d="M191.30,439.30L191.30,465.00" />
<path class="n" d="M124.90,459.90L191.30,459.90" />
<path class="a" d="M124.90,459.90L136.90,458.60L136.90,461.20Z"/>
<path class="a" d="M191.30,459.90L179.30,461.20L179.30,458.60Z"/>
<text x="157.8" y="454.8" font-size="12.5" text-anchor="middle" textLength="11.5" lengthAdjust="spacingAndGlyphs" >68</text>
<path class="k" d="M197.3,350.1H191.3V439.3H197.3" />
<path class="m" d="M197.30,350.10L197.30,439.30" />
<path class="k" d="M240.6,346H200.2L197.3,350.1M240.6,443.4H200.2L197.3,439.3" />
<path class="k" d="M199.70,346.60L199.70,442.80" />
<rect class="k" x="240.60" y="345.10" width="63.90" height="99.30" />
<path class="k" d="M304.50,346.10L413.00,346.10" />
<path class="k" d="M304.50,443.40L413.00,443.40" />
<path class="k" d="M413,345.1H458Q460,345.1 460,347.1V442.4Q460,444.4 458,444.4H413Z" />
<path class="k2" d="M458.00,345.60L458.00,443.90" />
<path d="M310.6,385.4H216.7A9.25,9.25 0 0 0 216.7,403.9H310.6Z" fill="#fff" stroke="none"/>
<path class="k" d="M311.5,385.4H216.7A9.25,9.25 0 0 0 216.7,403.9H311.5" />
<circle cx="327.7" cy="395.09999999999997" r="16.8" fill="#fff" stroke="#111" stroke-width="2.4"/>
<circle class="k" cx="328.00" cy="394.90" r="9.40" />
<path class="n" d="M327.70,376.00L327.70,413.50" />
<circle cx="391.4" cy="394.9" r="16.8" fill="none" stroke="#111" stroke-width="1.5"/>
<circle class="k" cx="391.40" cy="394.90" r="8.50" />
<path class="n" d="M391.40,376.00L391.40,413.50" />
<circle cx="435.4" cy="394.7" r="2.8" fill="#444" stroke="#111" stroke-width="1.7"/>
<circle cx="449.8" cy="394.7" r="2.4" fill="none" stroke="#111" stroke-width="1.2"/>
<path class="n" d="M435.40,386.50L435.40,402.70" />
<path class="n" d="M449.80,386.50L449.80,402.70" />
<path class="c" d="M200.00,394.70L346.00,394.70" />
<path class="k" d="M460,375.2H468.3V378.1H478.6M460,414.2H468.3V411.3H478.6" />
<path class="k2" d="M478.60,377.00L478.60,412.40" />
<path class="k" d="M482.6,370.8H520.6V418.8H482.6Q480.6,418.8 480.6,416.8V372.8Q480.6,370.8 482.6,370.8Z" />
<path class="k" d="M520.6,370.8L527,377.7H623.4A48.7,48.7 0 0 1 623.4,411.5H527L520.6,418.8" />
<path class="n" d="M526.60,377.70L526.60,411.50" />
<path class="n" d="M534.5,377.7Q528.5,394.6 534.5,411.5" />
<path class="k" d="M547.00,377.70L547.00,411.50" />
<path class="k" d="M608.20,377.70L608.20,411.50" />
<path class="k" d="M557.95,381.20L557.95,407.80" />
<path class="k" d="M596.85,381.20L596.85,407.80" />
<path class="k" d="M555.55,381.20L599.25,381.20" />
<path class="k" d="M555.55,407.80L599.25,407.80" />
<path class="k" d="M555.55,381.2A24.0,24.0 0 0 0 555.55,407.8" />
<path class="k" d="M599.25,381.2A24.0,24.0 0 0 1 599.25,407.8" />
<path class="m" d="M554.35,383.5A24.0,24.0 0 0 0 554.35,405.5" />
<path class="m" d="M600.45,383.5A24.0,24.0 0 0 1 600.45,405.5" />
<path d="M545.4,383.5H554.35M609.8000000000001,383.5H600.45" stroke="#111" stroke-width="1.7" fill="none"/>
<path d="M545.4,405.5H554.35M609.8000000000001,405.5H600.45" stroke="#111" stroke-width="1.7" fill="none"/>
<path d="M547,379.4H608.2M547,409.7H608.2" stroke="#222" stroke-width="2.6" fill="none"/>
<path class="n" d="M577.40,371.50L577.40,446.70" />
<path class="n" d="M526.60,411.50L526.60,446.70" />
<path class="n" d="M526.60,441.10L577.40,441.10" />
<path class="a" d="M526.60,441.10L538.60,439.80L538.60,442.40Z"/>
<path class="a" d="M577.40,441.10L565.40,442.40L565.40,439.80Z"/>
<text x="551.8" y="436.3" font-size="12.5" text-anchor="middle" textLength="11.0" lengthAdjust="spacingAndGlyphs" >52</text>
<path class="n" d="M624.00,377.70L655.60,377.70" />
<path class="n" d="M624.00,411.50L655.60,411.50" />
<path class="n" d="M646.30,377.70L646.30,411.50" />
<path class="a" d="M646.30,377.70L647.60,386.70L645.00,386.70Z"/>
<path class="a" d="M646.30,411.50L645.00,402.50L647.60,402.50Z"/>
<text x="641.2" y="394.6" font-size="12.5" text-anchor="middle" textLength="10.5" lengthAdjust="spacingAndGlyphs" transform="rotate(-90 641.2 394.6)" stroke-width="0.12" >35</text>
</svg>
</body>
</html>
